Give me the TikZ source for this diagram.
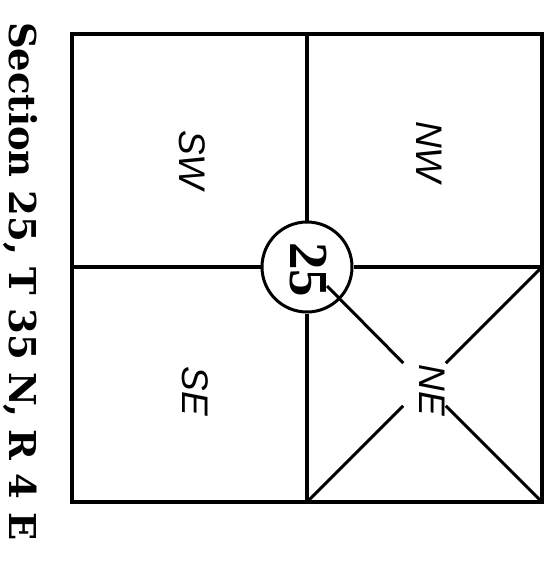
\documentclass[tikz,border=0pt]{standalone}
\usepackage{fontspec}
\setmainfont{Liberation Serif}
\newfontfamily\titlefont{DejaVu Serif}
\newfontfamily\labfont{Liberation Sans}
\begin{document}
\begin{tikzpicture}[x=1pt,y=-1pt]
\tikzset{
  frame/.style={line width=3.8pt, line join=miter},
  gridline/.style={line width=3.4pt},
  diag/.style={line width=3pt},
  quad/.style={rotate=-90, inner sep=0pt, font=\labfont\itshape\fontsize{37}{37}\selectfont},
}
\useasboundingbox (0,0) rectangle (545,568);
\coordinate (tl) at (72,34);
\coordinate (tr) at (542,34);
\coordinate (bl) at (72,502);
\coordinate (br) at (542,502);
\coordinate (mt) at (307,34);
\coordinate (mb) at (307,502);
\coordinate (ml) at (72,267);
\coordinate (mr) at (542,267);
\coordinate (d0) at (327,286);
% outer frame
\draw[frame] (tl) -- (tr) -- (br) -- (bl) -- cycle;
% section circle
\node[circle, draw, line width=3pt, minimum size=90pt, inner sep=0pt] (c) at (307,267) {};
\node[rotate=-90, inner sep=0pt, font=\bfseries\fontsize{55}{55}\selectfont] (n25) at (308.5,269.5) {25};
% quarter lines
\draw[gridline] (mt) -- (c);
\draw[gridline] (c) -- (mb);
\draw[gridline] (ml) -- (c);
\draw[gridline] (c) -- (mr);
% NE diagonals with gap round the label
\node[circle, minimum size=60pt, inner sep=0pt] (gap) at (424.5,384.5) {};
\draw[diag] (d0) -- (gap);
\draw[diag] (gap) -- (br);
\draw[diag] (mb) -- (gap);
\draw[diag] (gap) -- (mr);
% quarter labels
\node[quad] (sw) at (192,160) {SW};
\node[quad] (nw) at (429,152) {NW};
\node[quad] (se) at (195,391) {SE};
\node[quad] (ne) at (432,390) {NE};
% title
\node[rotate=-90, anchor=base west, inner sep=0pt, font=\titlefont\bfseries\fontsize{37}{37}\selectfont] (title) at (9.5,22) {Section 25, T 35 N, R 4 E};
\end{tikzpicture}
\end{document}
